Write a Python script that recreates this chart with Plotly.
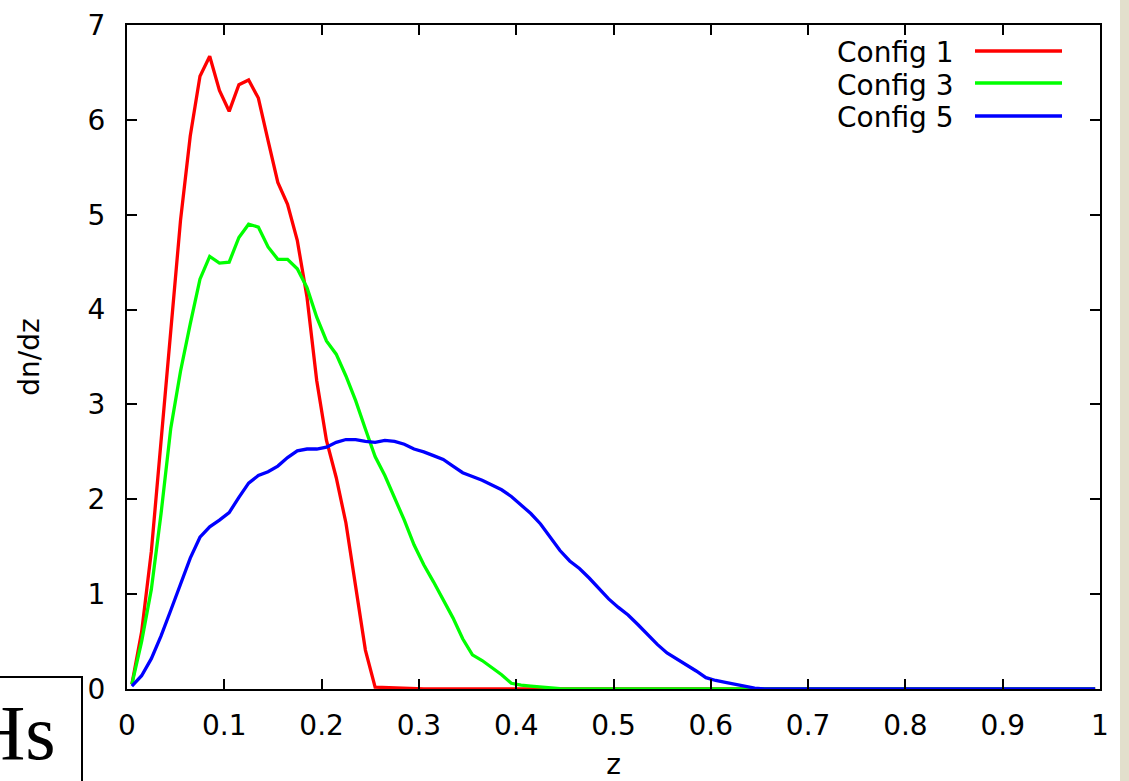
import plotly.graph_objects as go

# ---------------- data ----------------
z_red = [0.005, 0.015, 0.025, 0.035, 0.045, 0.055, 0.065, 0.075, 0.085, 0.095,
         0.105, 0.115, 0.125, 0.135, 0.145, 0.155, 0.165, 0.175, 0.185, 0.195,
         0.205, 0.215, 0.225, 0.235, 0.245, 0.255, 0.265, 0.275, 0.285, 0.295,
         0.305, 0.995]
dn_red = [0.05, 0.6, 1.45, 2.6, 3.8, 4.94, 5.83, 6.46, 6.67, 6.31,
          6.09, 6.37, 6.42, 6.23, 5.78, 5.34, 5.11, 4.73, 4.13, 3.25,
          2.62, 2.23, 1.75, 1.08, 0.41, 0.02, 0.015, 0.01, 0.008, 0.005,
          0.0, 0.0]

z_green = [0.005, 0.015, 0.025, 0.035, 0.045, 0.055, 0.065, 0.075, 0.085, 0.095,
           0.105, 0.115, 0.125, 0.135, 0.145, 0.155, 0.165, 0.175, 0.185, 0.195,
           0.205, 0.215, 0.225, 0.235, 0.245, 0.255, 0.265, 0.275, 0.285, 0.295,
           0.305, 0.315, 0.325, 0.335, 0.345, 0.355, 0.365, 0.375, 0.385, 0.395,
           0.405, 0.415, 0.425, 0.435, 0.445, 0.455, 0.995]
dn_green = [0.05, 0.5, 1.05, 1.85, 2.75, 3.35, 3.85, 4.32, 4.56, 4.49,
            4.50, 4.76, 4.90, 4.87, 4.66, 4.53, 4.53, 4.43, 4.23, 3.92,
            3.67, 3.53, 3.30, 3.04, 2.74, 2.45, 2.25, 2.02, 1.78, 1.52,
            1.31, 1.13, 0.94, 0.75, 0.53, 0.36, 0.30, 0.23, 0.15, 0.06,
            0.04, 0.03, 0.02, 0.01, 0.005, 0.0, 0.0]

z_blue = [0.005, 0.015, 0.025, 0.035, 0.045, 0.055, 0.065, 0.075, 0.085, 0.095,
          0.105, 0.115, 0.125, 0.135, 0.145, 0.155, 0.165, 0.175, 0.185, 0.195,
          0.205, 0.215, 0.225, 0.235, 0.245, 0.255, 0.265, 0.275, 0.285, 0.295,
          0.305, 0.315, 0.325, 0.335, 0.345, 0.355, 0.365, 0.375, 0.385, 0.395,
          0.405, 0.415, 0.425, 0.435, 0.445, 0.455, 0.465, 0.475, 0.485, 0.495,
          0.505, 0.515, 0.525, 0.535, 0.545, 0.555, 0.565, 0.575, 0.585, 0.595,
          0.605, 0.615, 0.625, 0.635, 0.645, 0.655, 0.995]
dn_blue = [0.03, 0.14, 0.32, 0.56, 0.83, 1.10, 1.38, 1.60, 1.71, 1.78,
           1.86, 2.02, 2.17, 2.25, 2.29, 2.35, 2.44, 2.51, 2.53, 2.53,
           2.55, 2.60, 2.63, 2.63, 2.61, 2.60, 2.62, 2.61, 2.58, 2.53,
           2.50, 2.46, 2.42, 2.35, 2.28, 2.24, 2.20, 2.15, 2.10, 2.03,
           1.94, 1.85, 1.74, 1.60, 1.46, 1.35, 1.27, 1.17, 1.06, 0.95,
           0.86, 0.78, 0.68, 0.57, 0.47, 0.38, 0.32, 0.26, 0.19, 0.12,
           0.09, 0.07, 0.05, 0.03, 0.01, 0.0, 0.0]

series_names = ["Config 1", "Config 3", "Config 5"]
series_colors = ["#ff0000", "#00ff00", "#0000ff"]

x_tickvals = [0, 0.1, 0.2, 0.3, 0.4, 0.5, 0.6, 0.7, 0.8, 0.9, 1]
x_ticktext = ["0", "0.1", "0.2", "0.3", "0.4", "0.5", "0.6", "0.7", "0.8", "0.9", "1"]
y_tickvals = [0, 1, 2, 3, 4, 5, 6, 7]
y_ticktext = ["0", "1", "2", "3", "4", "5", "6", "7"]

# ---------------- layout geometry (pixels) ----------------
W, H = 1129, 781
L, R, T, B = 127, 1100, 25, 689
PW, PH = R - L, B - T


def px_x(px):
    return (px - L) / PW


def px_y(py):
    return (B - py) / PH


FONT = "DejaVu Sans, Liberation Sans, Arial, sans-serif"

fig = go.Figure()
for zs, vs, name, col in zip([z_red, z_green, z_blue], [dn_red, dn_green, dn_blue],
                             series_names, series_colors):
    fig.add_trace(go.Scatter(x=zs, y=vs, mode="lines", name=name,
                             line=dict(color=col, width=3.3), showlegend=False))

axis_common = dict(showgrid=False, zeroline=False, showline=True, linecolor="black",
                   linewidth=2, mirror="ticks", ticks="inside", ticklen=10, tickwidth=2,
                   tickcolor="black", tickfont=dict(family=FONT, size=28, color="black"))

fig.update_xaxes(range=[0, 1], tickmode="array", tickvals=x_tickvals, ticktext=x_ticktext,
                 ticklabelstandoff=10,
                 title=dict(text="z", font=dict(family=FONT, size=28, color="black"), standoff=23),
                 **axis_common)
fig.update_yaxes(range=[0, 7], tickmode="array", tickvals=y_tickvals, ticktext=y_ticktext,
                 ticklabelstandoff=14,
                 title=dict(text="dn/dz", font=dict(family=FONT, size=28, color="black"), standoff=40),
                 **axis_common)

shapes = []
annotations = []
# manual legend (text left, sample line right as in the reference)
legend_y = [51, 83, 116]
for name, col, ly in zip(series_names, series_colors, legend_y):
    annotations.append(dict(xref="paper", yref="paper", x=px_x(956), y=px_y(ly + 2),
                            xanchor="right", yanchor="middle", showarrow=False, text=name,
                            font=dict(family=FONT, size=28, color="black")))
    shapes.append(dict(type="line", xref="paper", yref="paper",
                       x0=px_x(975), x1=px_x(1062), y0=px_y(ly), y1=px_y(ly),
                       line=dict(color=col, width=3.3)))

# cropped box with "Hs" at bottom-left
shapes.append(dict(type="rect", xref="paper", yref="paper",
                   x0=px_x(-20), x1=px_x(82), y0=px_y(677), y1=px_y(800),
                   line=dict(color="black", width=2), fillcolor="rgba(0,0,0,0)"))
annotations.append(dict(xref="paper", yref="paper", x=px_x(58), y=px_y(732),
                        xanchor="right", yanchor="middle", showarrow=False, text="Hs",
                        font=dict(family="Liberation Serif, Times New Roman, serif", size=78,
                                  color="black")))
# beige strip at the right edge
shapes.append(dict(type="rect", xref="paper", yref="paper", layer="below",
                   x0=px_x(1120), x1=px_x(1135), y0=px_y(-10), y1=px_y(800),
                   line=dict(width=0), fillcolor="#e2dfcc"))

fig.update_layout(width=W, height=H, margin=dict(l=L, r=W - R, t=T, b=H - B, autoexpand=False),
                  paper_bgcolor="white", plot_bgcolor="white",
                  shapes=shapes, annotations=annotations,
                  font=dict(family=FONT, color="black"))

fig.write_html("out.html", config={"displayModeBar": False},
               post_script="document.body.style.margin='0';document.body.style.overflow='hidden';")
